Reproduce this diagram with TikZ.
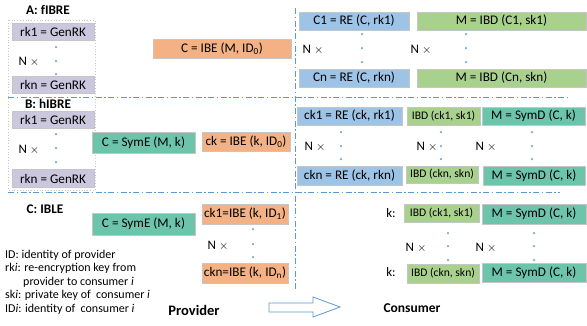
\documentclass[tikz,border=0pt]{standalone}
\usepackage{fontspec}
\setmainfont{Carlito}
\definecolor{lav}{HTML}{CBC7DE}
\definecolor{org}{HTML}{F4B183}
\definecolor{blu}{HTML}{9DC3E6}
\definecolor{grn}{HTML}{A9D18E}
\definecolor{tea}{HTML}{6CC5AA}
\definecolor{edg}{HTML}{C6C6C6}
\definecolor{dashblue}{HTML}{5B9BD5}
\tikzset{
  bx/.style={draw=edg, line width=0.8pt, inner sep=0pt, font=\fontsize{13.2}{15}\selectfont, minimum height=18pt},
  sbx/.style={bx, font=\fontsize{11.6}{13}\selectfont},
  lbl/.style={font=\bfseries\fontsize{13.2}{15}\selectfont, inner sep=0pt},
  nx/.style={font=\fontsize{13}{15}\selectfont, inner sep=0pt},
  leg/.style={font=\fontsize{12}{14}\selectfont, inner sep=0pt, anchor=west},
  dotpt/.style={fill=dashblue!85, draw=none, circle, inner sep=0pt, minimum size=2.5pt},
  sep/.style={draw=dashblue, line width=0.7pt, dash pattern=on 6pt off 2.5pt on 1.5pt off 2.5pt},
}
\begin{document}
\begin{tikzpicture}[x=1pt,y=-1pt]
\useasboundingbox (0,0) rectangle (587,325);
% separators
\coordinate (h1a) at (8,97); \coordinate (h1b) at (570,97);
\coordinate (h2a) at (8,192); \coordinate (h2b) at (560,192);
\coordinate (v1a) at (295,8); \coordinate (v1b) at (295,290);
\draw[sep] (h1a) -- (h1b);
\draw[sep] (h2a) -- (h2b);
\draw[sep] (v1a) -- (v1b);
% gray dotted box
\draw[draw=edg, dotted, line width=0.8pt] (8,20) rectangle (95,190);

% ---- A
\node[lbl] (lA) at (48,10) {A: fIBRE};
\node[bx, fill=lav, minimum width=82pt, minimum height=17pt] (rkA1) at (53,31.5) {rk1 = GenRK};
\node[bx, fill=lav, minimum width=82pt, minimum height=17pt] (rkAn) at (53,84.5) {rkn = GenRK};
\foreach \y/\n in {47/a,61/b,74/c} \node[dotpt] (dA\n) at (56,\y) {};
\node[nx] (nxA) at (29,62) {N $\times$};
\node[bx, fill=org, minimum width=138pt, minimum height=19pt] (cA) at (222,48.5) {C = IBE (M, ID\textsubscript{0})};

\node[bx, fill=blu, minimum width=110pt] (c1) at (354,21) {C1 = RE (C, rk1)};
\node[bx, fill=grn, minimum width=169pt] (m1) at (501.5,21) {M = IBD (C1, sk1)};
\node[bx, fill=blu, minimum width=110pt] (cn) at (354,78) {Cn = RE (C, rkn)};
\node[bx, fill=grn, minimum width=169pt] (mn) at (501.5,78) {M = IBD (Cn, skn)};
\foreach \x/\m in {362/a,466/b} \foreach \y/\n in {34/a,48/b,62/c} \node[dotpt] (dA\m\n) at (\x,\y) {};
\node[nx] (nxA1) at (313,50) {N $\times$};
\node[nx] (nxA2) at (421,50) {N $\times$};

% ---- B
\node[lbl] (lB) at (48,104) {B: hIBRE};
\node[bx, fill=lav, minimum width=82pt, minimum height=17pt] (rkB1) at (53,120) {rk1 = GenRK};
\node[bx, fill=lav, minimum width=82pt, minimum height=18pt] (rkBn) at (53,178.5) {rkn = GenRK};
\foreach \y/\n in {134/a,148/b,162/c} \node[dotpt] (dB\n) at (56,\y) {};
\node[nx] (nxB) at (29,150) {N $\times$};
\node[bx, fill=tea, minimum width=103pt, minimum height=21pt] (symB) at (143.5,142.5) {C = SymE (M, k)};
\node[bx, fill=org, minimum width=88pt, minimum height=19pt] (ckB) at (246,141.5) {ck = IBE (k, ID\textsubscript{0})};

\node[bx, fill=blu, minimum width=105pt] (ck1) at (349.5,116) {ck1 = RE (ck, rk1)};
\node[sbx, fill=grn, minimum width=73pt] (ibdB1) at (443.5,116) {IBD (ck1, sk1)};
\node[bx, fill=tea, minimum width=103pt] (symdB1) at (533.5,116) {M = SymD (C, k)};
\node[bx, fill=blu, minimum width=105pt, minimum height=19pt] (ckn) at (349.5,175.5) {ckn = RE (ck, rkn)};
\node[sbx, fill=grn, minimum width=72pt, minimum height=17pt] (ibdBn) at (442,174.5) {IBD (ckn, skn)};
\node[bx, fill=tea, minimum width=102pt, minimum height=19pt] (symdBn) at (534,175.5) {M = SymD (C, k)};
\foreach \x/\m in {341/a,441/b,532/c} \foreach \y/\n in {132/a,146/b,159/c} \node[dotpt] (dB\m\n) at (\x,\y) {};
\node[nx] (nxB1) at (315,147) {N $\times$};
\node[nx] (nxB2) at (427,147) {N $\times$};
\node[nx] (nxB3) at (486,147) {N $\times$};

% ---- C
\node[lbl] (lC) at (45,209) {C: IBLE};
\node[bx, fill=tea, minimum width=103pt, minimum height=22pt] (symC) at (143.5,224) {C = SymE (M, k)};
\node[bx, fill=org, minimum width=86pt, minimum height=20pt] (ckC1) at (245,214) {ck1=IBE (k, ID\textsubscript{1})};
\node[bx, fill=org, minimum width=86pt, minimum height=20pt] (ckCn) at (245,273) {ckn=IBE (k, ID\textsubscript{n})};
\foreach \y/\n in {229/a,244/b,257/c} \node[dotpt] (dC\n) at (253,\y) {};
\node[nx] (nxC) at (218,246) {N $\times$};

\node[nx] (k1) at (391,213) {k:};
\node[sbx, fill=grn, minimum width=75pt] (ibdC1) at (441.5,213) {IBD (ck1, sk1)};
\node[bx, fill=tea, minimum width=104pt, minimum height=20pt] (symdC1) at (534,214) {M = SymD (C, k)};
\node[nx] (kn) at (391,272) {k:};
\node[sbx, fill=grn, minimum width=72pt, minimum height=19pt] (ibdCn) at (443,273.5) {IBD (ckn, skn)};
\node[bx, fill=tea, minimum width=104pt, minimum height=19pt] (symdCn) at (534,272.5) {M = SymD (C, k)};
\foreach \x/\m in {448/a,534/b} \foreach \y/\n in {233/a,246/b,260/c} \node[dotpt] (dC\m\n) at (\x,\y) {};
\node[nx] (nxC1) at (416,248) {N $\times$};
\node[nx] (nxC2) at (486,248) {N $\times$};

% legend
\node[leg] (g1) at (5,255) {ID: identity of provider};
\node[leg] (g2) at (5,268) {rk\textit{i}: re-encryption key from};
\node[leg] (g3) at (23,282) {provider to consumer \textit{i}};
\node[leg] (g4) at (5,295) {sk\textit{i}: private key of \ consumer \textit{i}};
\node[leg] (g5) at (5,309) {ID\textit{i}: identity of \ consumer \textit{i}};

% provider -> consumer
\node[font=\bfseries\fontsize{14.5}{16}\selectfont, inner sep=0pt] (prov) at (194,310) {Provider};
\node[font=\bfseries\fontsize{13.5}{16}\selectfont, inner sep=0pt] (cons) at (412,308) {Consumer};
\draw[draw=dashblue, fill=white, line width=0.8pt, line join=miter]
  (269,303) -- (313,303) -- (313,297) -- (340,307) -- (313,317) -- (313,312) -- (269,312) -- cycle;
\end{tikzpicture}
\end{document}
